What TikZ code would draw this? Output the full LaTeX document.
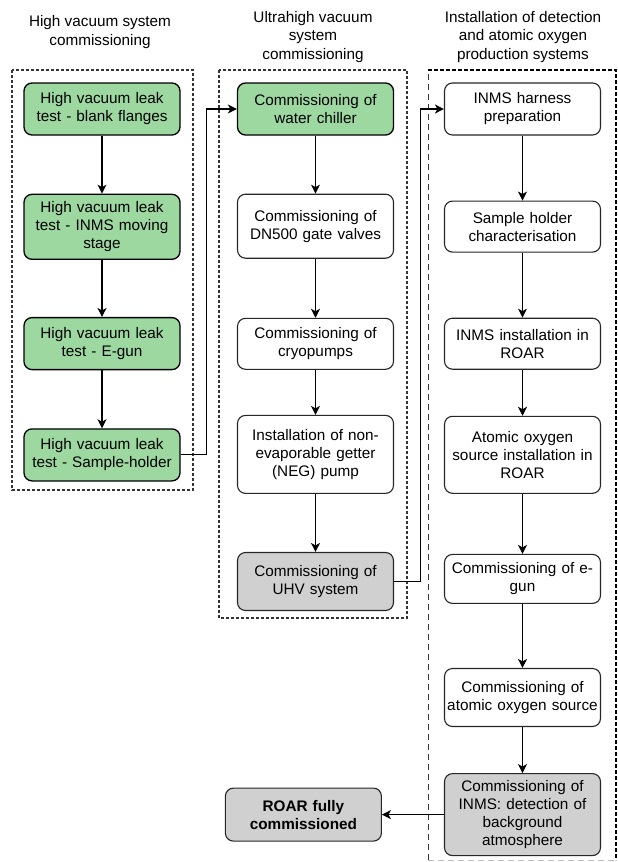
\documentclass[tikz,border=0pt]{standalone}
\usepackage{fontspec}
\setmainfont{Liberation Sans}
\usepackage{tikz}
\usetikzlibrary{shapes.geometric, arrows, arrows.meta, calc, positioning}
\definecolor{donegreen}{RGB}{156,216,160}
\definecolor{milestone}{RGB}{208,208,208}
\tikzstyle{step box} = [rectangle, rounded corners=8pt, line width=1.1pt, draw=black!85, fill=white, minimum width=156pt, text width=156pt, inner sep=0pt, align=center, font=\fontsize{15.3}{18}\selectfont]
\tikzstyle{done} = [step box, fill=donegreen, line width=1.3pt, draw=black]
\tikzstyle{final} = [step box, fill=milestone]
\tikzstyle{header} = [align=center, font=\fontsize{15.3}{18.5}\selectfont]
\tikzstyle{frame} = [line width=1.1pt, draw=black!80, dash pattern=on 3pt off 2pt]
\tikzstyle{arrow} = [line width=1.1pt,->,>={Stealth[length=9pt, width=9pt, inset=2.5pt]}]

\begin{document}
\begin{tikzpicture}[x=1pt, y=-1pt, node distance = 58pt]
		\useasboundingbox (0,0) rectangle (618,862);
		% column headers
		\node (HeadHV) [header] at (100,32) {High vacuum system\\commissioning};
		\node (HeadUHV) [header] at (313,37) {Ultrahigh vacuum\\system\\commissioning};
		\node (HeadDet) [header] at (523,37) {Installation of detection\\and atomic oxygen\\production systems};
		% frames
		\draw [frame] (12,70) rectangle (193,490);
		\draw [frame] (219,70) rectangle (407,618);
		\draw [line width=0.8pt, draw=black!80, dash pattern=on 6pt off 4pt] (428,860) -- (428,70);
		\draw [line width=0.8pt, draw=black!25, dash pattern=on 6pt off 4pt] (428,860) -- (616,860);
		\draw [line width=1.6pt, draw=black, dash pattern=on 4pt off 2pt] (428,70) -- (616,70) -- (616,860);
		% high vacuum
		\node (HVBlank) [done, minimum height=52pt] at (102,109) {High vacuum leak\\test - blank flanges};
		\node (HVStage) [done, minimum height=65pt, below = 58pt of HVBlank] {High vacuum leak\\test - INMS moving\\stage};
		\node (HVEgun) [done, minimum height=52pt, below = 57pt of HVStage] {High vacuum leak\\test - E-gun};
		\node (HVHolder) [done, minimum height=52pt, below = 58pt of HVEgun] {High vacuum leak\\test - Sample-holder};
		% ultrahigh vacuum
		\node (Chiller) [done, minimum height=52pt] at (315.5,109) {Commissioning of\\water chiller};
		\node (GateValves) [step box, minimum height=64pt, below = 58pt of Chiller] {Commissioning of\\DN500 gate valves};
		\node (Cryopumps) [step box, minimum height=51pt, below = 59pt of GateValves] {Commissioning of\\cryopumps};
		\node (NEGPump) [step box, minimum height=78pt, below = 45pt of Cryopumps] {Installation of non-\\evaporable getter\\(NEG) pump};
		\node (UHVSystem) [final, minimum height=58pt, below = 58pt of NEGPump] {Commissioning of\\UHV system};
		% detection and atomic oxygen
		\node (Harness) [step box, minimum height=52pt] at (522.5,109) {INMS harness\\preparation};
		\node (HolderChar) [step box, minimum height=51pt, below = 65pt of Harness] {Sample holder\\characterisation};
		\node (INMSInstall) [step box, minimum height=51pt, below = 65pt of HolderChar] {INMS installation in\\ROAR};
		\node (AOInstall) [step box, minimum height=77pt, below = 46pt of INMSInstall] {Atomic oxygen\\source installation in\\ROAR};
		\node (EgunComm) [step box, minimum height=49pt, below = 60pt of AOInstall] {Commissioning of e-\\gun};
		\node (AOComm) [step box, minimum height=58pt, below = 64pt of EgunComm] {Commissioning of\\atomic oxygen source};
		\node (INMSComm) [final, minimum height=82pt, below = 46pt of AOComm] {Commissioning of\\INMS: detection of\\background\\atmosphere};
		\node (ROAR) [final, minimum height=53pt, left = 62pt of INMSComm, font=\fontsize{15.3}{18}\selectfont\bfseries] {ROAR fully\\commissioned};
		% connectors
		\draw [arrow] (HVBlank) -- (HVStage);
		\draw [arrow] (HVStage) -- (HVEgun);
		\draw [arrow] (HVEgun) -- (HVHolder);
		\draw [arrow] (HVHolder.east) -- ++(26,0) |- (Chiller.west);
		\draw [arrow] (Chiller) -- (GateValves);
		\draw [arrow] (GateValves) -- (Cryopumps);
		\draw [arrow] (Cryopumps) -- (NEGPump);
		\draw [arrow] (NEGPump) -- (UHVSystem);
		\draw [arrow] (UHVSystem.east) -- ++(26,0) |- (Harness.west);
		\draw [arrow] (Harness) -- (HolderChar);
		\draw [arrow] (HolderChar) -- (INMSInstall);
		\draw [arrow] (INMSInstall) -- (AOInstall);
		\draw [arrow] (AOInstall) -- (EgunComm);
		\draw [arrow] (EgunComm) -- (AOComm);
		\draw [arrow] (AOComm) -- (INMSComm);
		\draw [arrow] (INMSComm) -- (ROAR);
		\end{tikzpicture}
\end{document}
